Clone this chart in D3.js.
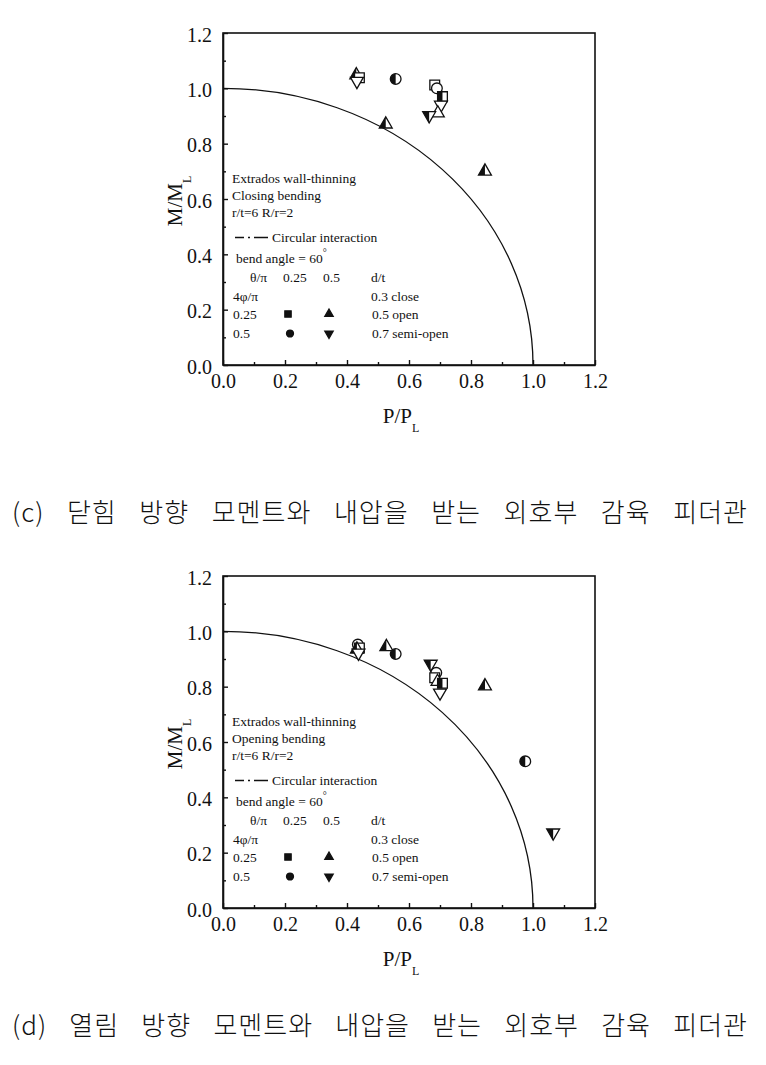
<!DOCTYPE html>
<html>
<head>
<meta charset="utf-8">
<script src="https://cdn.jsdelivr.net/npm/d3@7"></script>
<style>
  html, body { margin: 0; padding: 0; background: #fff; }
  svg text { fill: #111; }
  .axis-title { font-family: 'Liberation Serif', 'Times New Roman', serif; font-size: 21px; }
  .legend-text { font-family: 'Liberation Serif', 'Times New Roman', serif; font-size: 13.5px; }
  .caption { font-family: 'Noto Sans CJK KR', 'Liberation Serif', serif; font-size: 26px; letter-spacing: 1px; font-weight: 300; }
</style>
</head>
<body>
<div id="chart"></div>
<script>
'use strict';

// ------------------------------------------
// Daten
// [P/PL, M/ML, Form, Füllung]
// ------------------------------------------
const tickValues = [0, 0.2, 0.4, 0.6, 0.8, 1.0, 1.2];
const minorTickValues = [0.1, 0.3, 0.5, 0.7, 0.9, 1.1];

const closingPoints = [
  [0.430, 1.048, 'triangle', 'half'],
  [0.440, 1.038, 'square', 'open'],
  [0.432, 1.026, 'triangleDown', 'open'],
  [0.557, 1.034, 'circle', 'half'],
  [0.683, 1.012, 'square', 'open'],
  [0.690, 1.000, 'circle', 'open'],
  [0.708, 0.970, 'square', 'half'],
  [0.703, 0.940, 'triangleDown', 'open'],
  [0.693, 0.910, 'triangle', 'open'],
  [0.665, 0.902, 'triangleDown', 'half'],
  [0.525, 0.870, 'triangle', 'half'],
  [0.845, 0.700, 'triangle', 'half']
];

const openingPoints = [
  [0.435, 0.952, 'circle', 'open'],
  [0.440, 0.940, 'square', 'open'],
  [0.432, 0.935, 'triangle', 'half'],
  [0.437, 0.922, 'triangleDown', 'open'],
  [0.527, 0.944, 'triangle', 'half'],
  [0.557, 0.918, 'circle', 'half'],
  [0.670, 0.882, 'triangleDown', 'half'],
  [0.688, 0.850, 'circle', 'open'],
  [0.683, 0.832, 'square', 'open'],
  [0.692, 0.818, 'triangle', 'open'],
  [0.708, 0.812, 'square', 'half'],
  [0.700, 0.778, 'triangleDown', 'open'],
  [0.845, 0.802, 'triangle', 'half'],
  [0.975, 0.530, 'circle', 'half'],
  [1.065, 0.272, 'triangleDown', 'half']
];

const captionC = ['(c)', '닫힘', '방향', '모멘트와', '내압을', '받는', '외호부', '감육', '피더관'];
const captionD = ['(d)', '열림', '방향', '모멘트와', '내압을', '받는', '외호부', '감육', '피더관'];

const panels = [
  { points: closingPoints, mode: 'Closing bending', caption: captionC, captionY: 522 },
  { points: openingPoints, mode: 'Opening bending', caption: captionD, captionY: 1035 }
];

(function () {
  const width = 766;
  const height = 1065;
  const plot = { left: 223, right: 595, top: 33, bottom: 365 };
  const panelOffset = 543;
  const SERIF = "'Liberation Serif', 'Times New Roman', serif";

  const svg = d3.select('#chart')
    .append('svg')
    .attr('width', width)
    .attr('height', height)
    .attr('viewBox', `0 0 ${width} ${height}`);

  svg.append('rect').attr('width', width).attr('height', height).attr('fill', '#fff');

  // Clip für halb gefüllte Symbole (linke Hälfte schwarz)
  svg.append('defs').append('clipPath')
    .attr('id', 'half-left')
    .append('rect')
    .attr('x', -12).attr('y', -12).attr('width', 12).attr('height', 24);

  const SYMBOL = {
    square:       { type: d3.symbolSquare,   size: 95, rotate: 0 },
    triangle:     { type: d3.symbolTriangle, size: 72, rotate: 0 },
    triangleDown: { type: d3.symbolTriangle, size: 72, rotate: 180 },
    circle:       { type: d3.symbolCircle,   size: 90, rotate: 0 }
  };

  function drawMarker(g, shape, fill, scale) {
    const s = SYMBOL[shape];
    const d = d3.symbol().type(s.type).size(s.size * (scale || 1))();
    const m = g.append('g').attr('transform', `rotate(${s.rotate})`);
    if (fill === 'half') {
      m.append('path').attr('d', d).attr('fill', '#fff');
      m.append('path').attr('d', d).attr('fill', '#111')
        .attr('clip-path', 'url(#half-left)')
        .attr('transform', s.rotate ? 'scale(-1,1)' : null);
    }
    m.append('path')
      .attr('d', d)
      .attr('fill', fill === 'solid' ? '#111' : (fill === 'half' ? 'none' : '#fff'))
      .attr('stroke', '#111')
      .attr('stroke-width', 1.3);
  }

  panels.forEach((panel, pi) => {
    const oy = pi * panelOffset;
    const g = svg.append('g').attr('transform', `translate(0,${oy})`);

    const x = d3.scaleLinear().domain([0, 1.2]).range([plot.left, plot.right]);
    const y = d3.scaleLinear().domain([0, 1.2]).range([plot.bottom, plot.top]);

    // Rahmen
    g.append('rect')
      .attr('x', plot.left).attr('y', plot.top)
      .attr('width', plot.right - plot.left)
      .attr('height', plot.bottom - plot.top)
      .attr('fill', 'none')
      .attr('stroke', '#111')
      .attr('stroke-width', 1.6);

    // Achsen mit nach innen zeigenden Ticks
    const xAxis = g.append('g')
      .attr('transform', `translate(0,${plot.bottom})`)
      .call(d3.axisBottom(x).tickValues(tickValues).tickSizeInner(-5).tickSizeOuter(0)
        .tickPadding(13).tickFormat(d3.format('.1f')));
    const xMinor = g.append('g')
      .attr('transform', `translate(0,${plot.bottom})`)
      .call(d3.axisBottom(x).tickValues(minorTickValues).tickSize(-3).tickFormat(''));

    const yAxis = g.append('g')
      .attr('transform', `translate(${plot.left},0)`)
      .call(d3.axisLeft(y).tickValues(tickValues).tickSizeInner(-5).tickSizeOuter(0)
        .tickPadding(11).tickFormat(d3.format('.1f')));
    const yMinor = g.append('g')
      .attr('transform', `translate(${plot.left},0)`)
      .call(d3.axisLeft(y).tickValues(minorTickValues).tickSize(-3).tickFormat(''));

    [xMinor, yMinor].forEach(a => a.select('.domain').remove());
    [xAxis, yAxis, xMinor, yMinor].forEach(a => {
      a.attr('font-family', SERIF).attr('font-size', 20);
      a.select('.domain').attr('stroke', '#111').attr('stroke-width', 1.6);
      a.selectAll('.tick line').attr('stroke', '#111').attr('stroke-width', 1.4);
      a.selectAll('.tick text')
        .attr('fill', '#111')
        .attr('font-family', SERIF)
        .style('font-family', SERIF)
        .style('font-size', '20px');
    });
    xAxis.selectAll('.tick text').attr('dy', '0.5em');
    yAxis.selectAll('.tick text').attr('dy', '0.4em');

    // Achsentitel
    const xt = g.append('text').attr('class', 'axis-title')
      .attr('x', (plot.left + plot.right) / 2 - 8).attr('y', plot.bottom + 58)
      .attr('text-anchor', 'middle');
    xt.append('tspan').text('P/P');
    xt.append('tspan').attr('dy', 9).attr('font-size', 12).text('L');

    const yt = g.append('text').attr('class', 'axis-title')
      .attr('transform', `translate(182,${(plot.top + plot.bottom) / 2 + 2}) rotate(-90)`)
      .attr('text-anchor', 'middle');
    yt.append('tspan').text('M/M');
    yt.append('tspan').attr('dy', 9).attr('font-size', 12).text('L');

    // Kreisförmige Interaktion P² + M² = 1 als Ellipsenbogen über die Skalen
    const rx = x(1) - x(0);
    const ry = y(0) - y(1);
    g.append('path')
      .attr('d', `M${x(0)},${y(1)} A${rx},${ry} 0 0 1 ${x(1)},${y(0)}`)
      .attr('fill', 'none')
      .attr('stroke', '#111')
      .attr('stroke-width', 1.3);

    // Messpunkte
    panel.points.forEach(p => {
      const mg = g.append('g').attr('transform', `translate(${x(p[0])},${y(p[1])})`);
      drawMarker(mg, p[2], p[3]);
    });

    // ------------------------------------------
    // Legende im Plot
    // ------------------------------------------
    const lg = g.append('g').attr('class', 'legend-text');
    const line = (tx, ty, t) => lg.append('text').attr('x', tx).attr('y', ty).text(t);

    line(232, 183, 'Extrados wall-thinning');
    line(232, 200, panel.mode);
    line(232, 217, 'r/t=6 R/r=2');

    lg.append('line')
      .attr('x1', 235).attr('x2', 268).attr('y1', 237.5).attr('y2', 237.5)
      .attr('stroke', '#111').attr('stroke-width', 1.3)
      .attr('stroke-dasharray', '9,4,2,4,14');
    line(272, 242, 'Circular interaction');

    const ba = line(236, 263, 'bend angle = 60');
    ba.append('tspan').attr('dy', -7).attr('font-size', 10).text('°');

    line(250, 282, 'θ/π');
    line(283, 282, '0.25');
    line(323, 282, '0.5');
    line(371, 282, 'd/t');

    line(233, 301, '4φ/π');
    line(371, 301, '0.3 close');

    line(233, 319, '0.25');
    line(372, 319, '0.5 open');
    line(233, 338, '0.5');
    line(372, 338, '0.7 semi-open');

    [[288, 314, 'square'], [329, 314, 'triangle'], [290, 333.5, 'circle'], [329, 333.5, 'triangleDown']]
      .forEach(k => {
        const mg = lg.append('g').attr('transform', `translate(${k[0]},${k[1]})`);
        drawMarker(mg, k[2], 'solid', 0.42);
      });

    // Bildunterschrift: Wörter gleichmäßig zwischen linkem und rechtem Rand verteilen
    const capLeft = 12;
    const capRight = 748;
    const words = svg.append('g').attr('class', 'caption')
      .selectAll('text')
      .data(panel.caption)
      .join('text')
      .attr('y', panel.captionY)
      .text(d => d);
    const widths = [];
    words.each(function () { widths.push(this.getComputedTextLength()); });
    const gap = (capRight - capLeft - d3.sum(widths)) / (widths.length - 1);
    let cx = capLeft;
    words.attr('x', (d, i) => {
      const pos = cx;
      cx += widths[i] + gap;
      return pos;
    });
  });
})();
</script>
</body>
</html>
